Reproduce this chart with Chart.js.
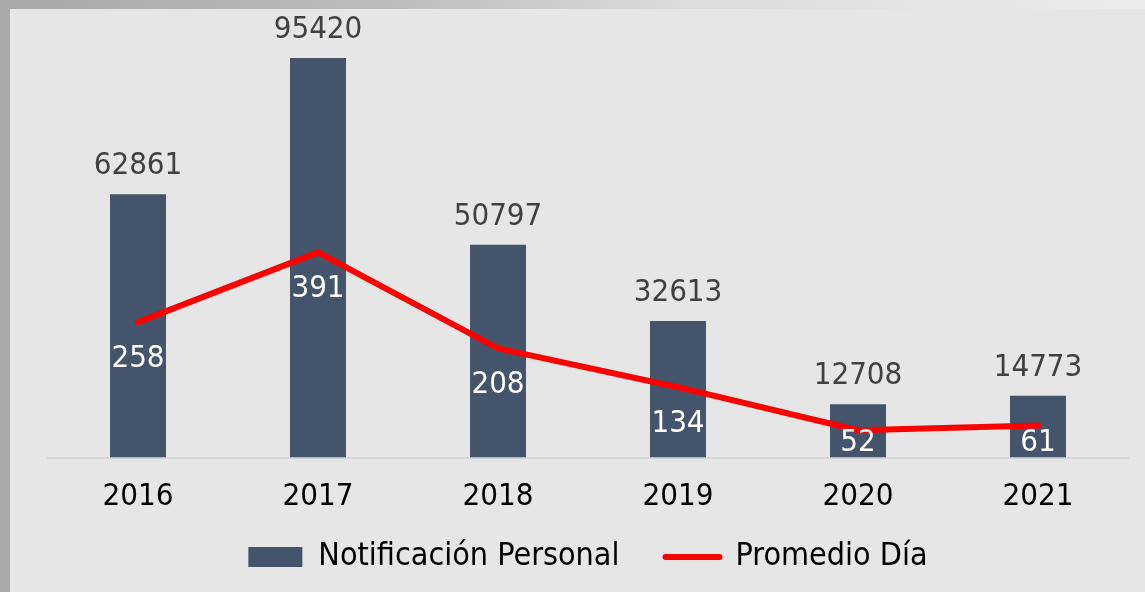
<!DOCTYPE html>
<html>
<head>
<meta charset="utf-8">
<script src="https://cdn.jsdelivr.net/npm/chart.js@4"></script>
<style>
    html, body { margin: 0; padding: 0; overflow: hidden; }
    body {
        width: 1145px; height: 592px;
        background: linear-gradient(to right, #a8a8a8 0%, #bdbdbd 35%, #dcdcdc 60%, #ececec 100%);
    }
    .chart-wrapper {
        position: absolute; left: 10px; top: 9px;
        width: 1135px; height: 600px;
        background: #e6e6e6;
    }
</style>
</head>
<body>
<div class="chart-wrapper"><canvas id="chart"></canvas></div>
<script>
// --- Data ---
const years = ['2016', '2017', '2018', '2019', '2020', '2021'];
const notificacionPersonal = [62861, 95420, 50797, 32613, 12708, 14773];
const promedioDia = [258, 391, 208, 134, 52, 61];

const FONT = '"DejaVu Sans Condensed", "DejaVu Sans", sans-serif';
const BAR_COLOR = '#44546a';
const LINE_COLOR = '#ff0000';

// Draws the value labels: dark above the bars, white under the line points
const valueLabels = {
    id: 'valueLabels',
    afterDatasetsDraw(chart) {
        const { ctx, chartArea } = chart;
        ctx.save();
        ctx.font = `31px ${FONT}`;
        ctx.textAlign = 'center';
        ctx.textBaseline = 'middle';

        chart.getDatasetMeta(0).data.forEach((bar, i) => {
            ctx.fillStyle = '#404040';
            ctx.fillText(String(notificacionPersonal[i]), bar.x, bar.y - 28);
        });

        chart.getDatasetMeta(1).data.forEach((pt, i) => {
            ctx.fillStyle = '#ffffff';
            const y = Math.min(pt.y + 37, chartArea.bottom - 14.5);
            ctx.fillText(String(promedioDia[i]), pt.x, y);
        });
        ctx.restore();
    }
};

// The legend padding also sets the gap between items, so pull the legend up a bit afterwards
const legendNudge = {
    id: 'legendNudge',
    afterLayout(chart) {
        if (chart.legend) {
            chart.legend.top -= 17;
            chart.legend.bottom -= 17;
        }
    }
};

new Chart(document.getElementById('chart'), {
    data: {
        labels: years,
        datasets: [
            {
                type: 'bar',
                label: 'Notificación Personal',
                data: notificacionPersonal,
                backgroundColor: BAR_COLOR,
                barPercentage: 1,
                categoryPercentage: 0.311,
                yAxisID: 'y',
                order: 0
            },
            {
                type: 'line',
                label: 'Promedio Día',
                data: promedioDia,
                borderColor: LINE_COLOR,
                backgroundColor: LINE_COLOR,
                borderWidth: 6,
                borderCapStyle: 'round',
                borderJoinStyle: 'round',
                pointRadius: 0,
                tension: 0,
                yAxisID: 'y1',
                order: -1 // draw on top of the bars
            }
        ]
    },
    options: {
        responsive: true,
        maintainAspectRatio: false,
        animation: false,
        layout: { padding: { top: 11, left: 38, right: 17, bottom: 9 } },
        scales: {
            x: {
                grid: { display: false },
                border: { display: true, color: '#d6d6d6', width: 2 },
                ticks: {
                    color: '#000000',
                    padding: 15.5,
                    font: { family: FONT, size: 31, lineHeight: 1 }
                },
                afterFit: (scale) => { scale.height = 54.5; }
            },
            y: { display: false, min: 0, max: 104500 },
            y1: { display: false, min: 0, max: 834 }
        },
        plugins: {
            tooltip: { enabled: false },
            legend: {
                position: 'bottom',
                labels: {
                    usePointStyle: true,
                    pointStyleWidth: 54,
                    boxHeight: 20,
                    padding: 46,
                    color: '#000000',
                    font: { family: FONT, size: 32 },
                    generateLabels: (chart) => chart.data.datasets.map((ds, i) => ({
                        text: ds.label,
                        datasetIndex: i,
                        fillStyle: ds.type === 'bar' ? BAR_COLOR : LINE_COLOR,
                        strokeStyle: ds.type === 'bar' ? BAR_COLOR : LINE_COLOR,
                        lineWidth: ds.type === 'bar' ? 0 : 6,
                        lineCap: 'round',
                        pointStyle: ds.type === 'bar' ? 'rect' : 'line',
                        fontColor: '#000000',
                        hidden: false
                    }))
                }
            }
        }
    },
    plugins: [valueLabels, legendNudge]
});
</script>
</body>
</html>
